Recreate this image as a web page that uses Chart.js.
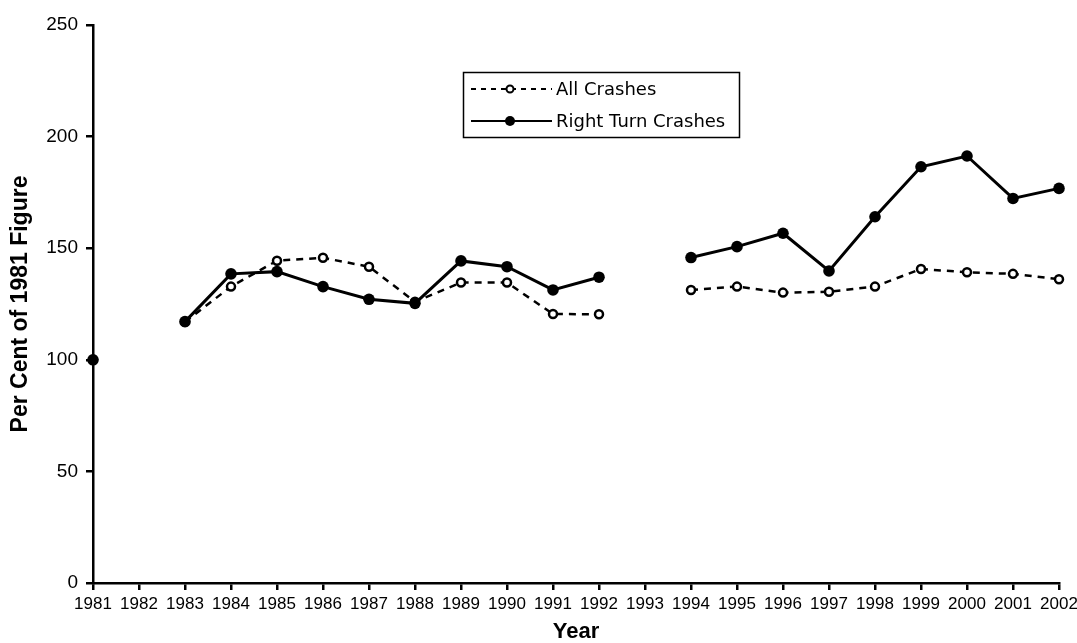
<!DOCTYPE html>
<html>
<head>
<meta charset="utf-8">
<script src="https://cdn.jsdelivr.net/npm/chart.js@4/dist/chart.umd.min.js"></script>
<style>
  html, body { margin: 0; padding: 0; background: #fff; }
  #wrap { width: 1077px; height: 643px; }
</style>
</head>
<body>
<div id="wrap"><canvas id="chart" width="1077" height="643"></canvas></div>
<script>
const years = ["1981","1982","1983","1984","1985","1986","1987","1988","1989","1990","1991",
               "1992","1993","1994","1995","1996","1997","1998","1999","2000","2001","2002"];
const allCrashes = [100, null, 117, 132.8, 144.4, 145.7, 141.7, 126, 134.6, 134.6, 120.5,
                    120.4, null, 131.3, 132.8, 130.1, 130.5, 132.8, 140.7, 139.2, 138.5, 136.1];
const rightTurn = [100, null, 117.1, 138.5, 139.5, 132.8, 127.1, 125.3, 144.3, 141.7, 131.3,
                   137.0, null, 145.8, 150.7, 156.7, 139.8, 164.1, 186.5, 191.3, 172.3, 176.8];
const seriesNames = ["All Crashes", "Right Turn Crashes"];
const yMin = 0, yMax = 250, yStep = 50;

const tickFont = "'Liberation Sans', Arial, sans-serif";

// legend box drawn by hand: line + marker + label, like the original
const boxLegend = {
  id: 'boxLegend',
  afterDraw(chart) {
    const ctx = chart.ctx;
    const x0 = 463, y0 = 72, w = 276, h = 65;
    ctx.save();
    ctx.strokeStyle = '#000';
    ctx.lineWidth = 1.5;
    ctx.strokeRect(x0 + 0.5, y0 + 0.5, w, h);
    const rows = [
      { y: y0 + 17, dash: [5, 5], open: true },
      { y: y0 + 49, dash: [], open: false }
    ];
    rows.forEach((r, i) => {
      ctx.beginPath();
      ctx.setLineDash(r.dash);
      ctx.lineWidth = 2;
      ctx.moveTo(x0 + 8, r.y);
      ctx.lineTo(x0 + 89, r.y);
      ctx.stroke();
      ctx.setLineDash([]);
      ctx.beginPath();
      if (r.open) {
        ctx.arc(x0 + 47, r.y, 3.5, 0, Math.PI * 2);
        ctx.fillStyle = '#fff';
        ctx.fill();
        ctx.lineWidth = 2;
        ctx.stroke();
      } else {
        ctx.arc(x0 + 47, r.y, 5, 0, Math.PI * 2);
        ctx.fillStyle = '#000';
        ctx.fill();
      }
      ctx.fillStyle = '#000';
      ctx.font = "18px 'DejaVu Sans', sans-serif";
      ctx.textBaseline = 'middle';
      ctx.textAlign = 'left';
      ctx.fillText(seriesNames[i], x0 + 93, r.y + 1);
    });
    ctx.restore();
  }
};

new Chart(document.getElementById('chart').getContext('2d'), {
  type: 'line',
  data: {
    labels: years,
    datasets: [{
      label: seriesNames[0],
      data: allCrashes,
      order: 1,
      borderColor: '#000',
      borderWidth: 2.5,
      borderDash: [7, 6],
      pointRadius: 4,
      pointBorderWidth: 2.5,
      pointBackgroundColor: '#fff',
      pointBorderColor: '#000',
      tension: 0,
      spanGaps: false,
      clip: false
    }, {
      label: seriesNames[1],
      data: rightTurn,
      order: 0,
      borderColor: '#000',
      borderWidth: 3,
      pointRadius: 5.8,
      pointBorderWidth: 0,
      pointBackgroundColor: '#000',
      pointBorderColor: '#000',
      tension: 0,
      spanGaps: false,
      clip: false
    }]
  },
  options: {
    responsive: false,
    animation: false,
    devicePixelRatio: 1,
    layout: { padding: { left: 0, top: 25, right: 18, bottom: 0 } },
    plugins: {
      legend: { display: false },
      tooltip: { enabled: false }
    },
    scales: {
      x: {
        type: 'category',
        offset: false,
        grid: { display: true, drawOnChartArea: false, drawTicks: true, tickLength: 7, color: '#000', lineWidth: 2.5 },
        border: { display: true, color: '#000', width: 2.5 },
        ticks: { color: '#000', font: { family: tickFont, size: 17 }, autoSkip: false, maxRotation: 0, minRotation: 0, padding: 4 },
        title: { display: true, text: 'Year', color: '#000', font: { family: tickFont, size: 22, weight: 'bold', lineHeight: 1 }, padding: { top: 0, bottom: 0 } },
        afterFit(scale) {
          scale.height = 60;
          scale.paddingLeft = 0;
          scale.paddingRight = 0;
        }
      },
      y: {
        min: yMin,
        max: yMax,
        grid: { display: true, drawOnChartArea: false, drawTicks: true, tickLength: 7, color: '#000', lineWidth: 2.5 },
        border: { display: true, color: '#000', width: 2.5 },
        ticks: { stepSize: yStep, color: '#000', font: { family: tickFont, size: 19 }, padding: 8 },
        title: { display: true, text: 'Per Cent of 1981 Figure', color: '#000', font: { family: tickFont, size: 23, weight: 'bold', lineHeight: 1 }, padding: { top: 9, bottom: 0 } },
        afterFit(scale) { scale.width = 93; }
      }
    }
  },
  plugins: [boxLegend]
});
</script>
</body>
</html>
